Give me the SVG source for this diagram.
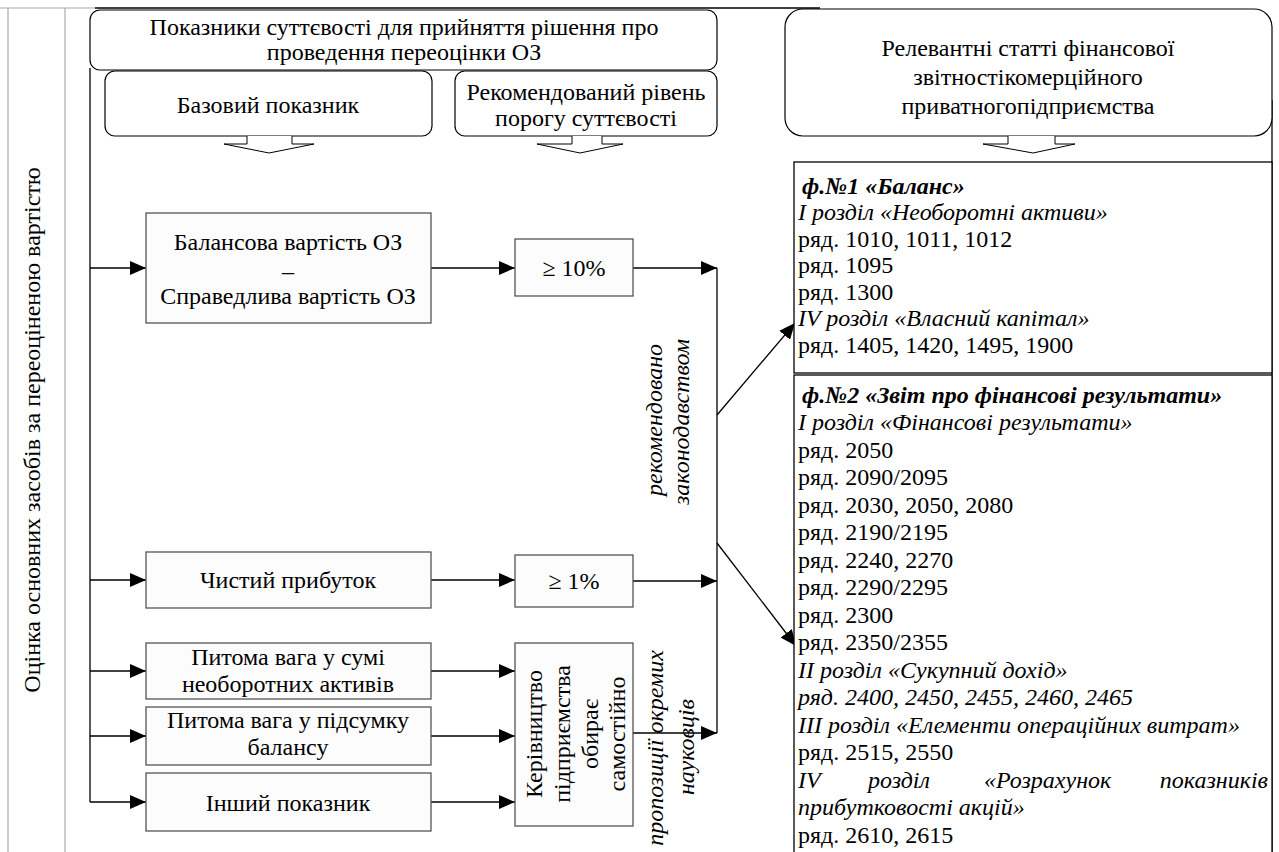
<svg xmlns="http://www.w3.org/2000/svg" width="1279" height="852" viewBox="0 0 1279 852">
<style>
text{font-family:"Liberation Serif","Times New Roman",serif;font-size:24px;fill:#000}
.c{text-anchor:middle}
.i{font-style:italic}
.bi{font-style:italic;font-weight:bold}
.rb{fill:#fff;stroke:#000;stroke-width:1.2}
.sb{fill:#fcfcfc;stroke:#555;stroke-width:1.3}
.cb{fill:#fff;stroke:#000;stroke-width:1.3}
.ln{fill:none;stroke:#000;stroke-width:1.3}
.ar{fill:none;stroke:#000;stroke-width:1.3;marker-end:url(#ah)}
.ha{fill:#fff;stroke:#000;stroke-width:1}
.gr{fill:none;stroke:#aaa;stroke-width:1.2}
</style>
<defs>
<marker id="ah" viewBox="0 0 16 14" refX="16" refY="7" markerWidth="16" markerHeight="14" markerUnits="userSpaceOnUse" orient="auto">
<path d="M0,0 L16,7 L0,14 Z" fill="#000"/>
</marker>
</defs>
<rect width="1279" height="852" fill="#fff"/>

<g id="frame">
<line class="gr" x1="0" y1="8" x2="95" y2="8"/>
<line class="gr" x1="8" y1="8" x2="8" y2="852"/>
<line class="gr" x1="65" y1="8" x2="65" y2="852"/>
<line class="ln" x1="95" y1="8" x2="820" y2="8"/>
<line class="ln" x1="1272" y1="100" x2="1272" y2="852"/>
</g>

<g id="side-label">
<text class="c" transform="translate(40,430) rotate(-90)">Оцінка основних засобів за переоціненою вартістю</text>
</g>

<g id="connectors">
<line class="ln" x1="90" y1="68" x2="90" y2="802"/>
<line class="ar" x1="90" y1="268" x2="146" y2="268"/>
<line class="ar" x1="90" y1="580" x2="146" y2="580"/>
<line class="ar" x1="90" y1="671" x2="146" y2="671"/>
<line class="ar" x1="90" y1="736" x2="146" y2="736"/>
<line class="ar" x1="90" y1="802" x2="146" y2="802"/>
<line class="ar" x1="431" y1="268" x2="515" y2="268"/>
<line class="ar" x1="431" y1="580" x2="515" y2="580"/>
<line class="ar" x1="431" y1="671" x2="515" y2="671"/>
<line class="ar" x1="431" y1="736" x2="515" y2="736"/>
<line class="ar" x1="431" y1="802" x2="515" y2="802"/>
<line class="ar" x1="633" y1="268" x2="717" y2="268"/>
<line class="ar" x1="633" y1="581" x2="717" y2="581"/>
<line class="ar" x1="633" y1="733" x2="717" y2="733"/>
<line class="ln" x1="717" y1="268" x2="717" y2="733"/>
<line class="ar" x1="717" y1="415" x2="795" y2="323"/>
<line class="ar" x1="717" y1="543" x2="796" y2="646"/>
</g>

<g id="n-top">
<rect class="rb" x="90" y="10" width="627" height="60" rx="10"/>
<text class="c" x="404" y="35">Показники суттєвості для прийняття рішення про</text>
<text class="c" x="404" y="60">проведення переоцінки ОЗ</text>
</g>

<g id="n-base">
<rect class="rb" x="105" y="71" width="327" height="65" rx="10"/>
<text class="c" x="268" y="113">Базовий показник</text>
<path class="ha" d="M247,136 L247,144 L224,144 L269,153 L314,144 L292,144 L292,136"/>
</g>

<g id="n-level">
<rect class="rb" x="455" y="71" width="262" height="65" rx="10"/>
<text class="c" x="586" y="100">Рекомендований рівень</text>
<text class="c" x="586" y="126">порогу суттєвості</text>
<path class="ha" d="M572,136 L572,144 L537,144 L580,153 L623,144 L602,144 L602,136"/>
</g>

<g id="n-relevant">
<rect class="rb" x="785" y="9" width="487" height="127" rx="18"/>
<text class="c" x="1028" y="56">Релевантні статті фінансової</text>
<text class="c" x="1028" y="85">звітностікомерційного</text>
<text class="c" x="1028" y="114">приватногопідприємства</text>
<path class="ha" d="M1008,136 L1008,144 L983,144 L1033,153 L1075,144 L1055,144 L1055,136"/>
</g>

<g id="n-balance-diff">
<rect class="sb" x="146" y="213" width="285" height="110"/>
<text class="c" x="288" y="250">Балансова вартість ОЗ</text>
<text class="c" x="288" y="279">–</text>
<text class="c" x="288" y="304">Справедлива вартість ОЗ</text>
</g>

<g id="n-profit">
<rect class="sb" x="146" y="552" width="285" height="56"/>
<text class="c" x="288" y="588">Чистий прибуток</text>
</g>

<g id="n-share-nca">
<rect class="sb" x="146" y="643" width="285" height="56"/>
<text class="c" x="288" y="665">Питома вага у сумі</text>
<text class="c" x="288" y="692">необоротних активів</text>
</g>

<g id="n-share-bal">
<rect class="sb" x="146" y="707" width="285" height="58"/>
<text class="c" x="288" y="728">Питома вага у підсумку</text>
<text class="c" x="288" y="755">балансу</text>
</g>

<g id="n-other">
<rect class="sb" x="146" y="773" width="285" height="58"/>
<text class="c" x="288" y="811">Інший показник</text>
</g>

<g id="n-10">
<rect class="sb" x="515" y="239" width="118" height="57"/>
<text class="c" x="574" y="276">≥ 10%</text>
</g>

<g id="n-1">
<rect class="sb" x="515" y="555" width="118" height="52"/>
<text class="c" x="574" y="589">≥ 1%</text>
</g>

<g id="n-mgmt">
<rect class="sb" x="515" y="643" width="118" height="183"/>
<text class="c" transform="translate(542,734) rotate(-90)">Керівництво</text>
<text class="c" transform="translate(570,734) rotate(-90)">підприємства</text>
<text class="c" transform="translate(598,734) rotate(-90)">обирає</text>
<text class="c" transform="translate(625,734) rotate(-90)">самостійно</text>
</g>

<g id="lbl-law">
<text class="c i" transform="translate(662,420) rotate(-90)">рекомендовано</text>
<text class="c i" transform="translate(689,422) rotate(-90)">законодавством</text>
</g>

<g id="lbl-sci">
<text class="c i" transform="translate(663,748) rotate(-90)">пропозиції окремих</text>
<text class="c i" transform="translate(694,747) rotate(-90)">науковців</text>
</g>

<g id="n-form1">
<rect class="cb" x="794" y="162" width="478" height="211"/>
<text class="bi" x="802" y="194">ф.№1 «Баланс»</text>
<text class="i" x="798" y="220">І розділ «Необоротні активи»</text>
<text x="798" y="247">ряд. 1010, 1011, 1012</text>
<text x="798" y="273">ряд. 1095</text>
<text x="798" y="300">ряд. 1300</text>
<text class="i" x="798" y="326">IV розділ «Власний капітал»</text>
<text x="798" y="353">ряд. 1405, 1420, 1495, 1900</text>
</g>

<g id="n-form2">
<rect class="cb" x="794" y="375" width="478" height="490"/>
<text class="bi" x="802" y="403">ф.№2 «Звіт про фінансові результати»</text>
<text class="i" x="798" y="430">І розділ «Фінансові результати»</text>
<text x="798" y="458">ряд. 2050</text>
<text x="798" y="485">ряд. 2090/2095</text>
<text x="798" y="513">ряд. 2030, 2050, 2080</text>
<text x="798" y="540">ряд. 2190/2195</text>
<text x="798" y="568">ряд. 2240, 2270</text>
<text x="798" y="595">ряд. 2290/2295</text>
<text x="798" y="623">ряд. 2300</text>
<text x="798" y="650">ряд. 2350/2355</text>
<text class="i" x="798" y="678">II розділ «Сукупний дохід»</text>
<text class="i" x="798" y="705">ряд. 2400, 2450, 2455, 2460, 2465</text>
<text class="i" x="798" y="733">III розділ «Елементи операційних витрат»</text>
<text x="798" y="760">ряд. 2515, 2550</text>
<text class="i" x="798" y="788"><tspan x="798">IV</tspan><tspan x="868">розділ</tspan><tspan x="984">«Розрахунок</tspan><tspan x="1268" text-anchor="end">показників</tspan></text>
<text class="i" x="798" y="815">прибутковості акцій»</text>
<text x="798" y="843">ряд. 2610, 2615</text>
</g>
</svg>
